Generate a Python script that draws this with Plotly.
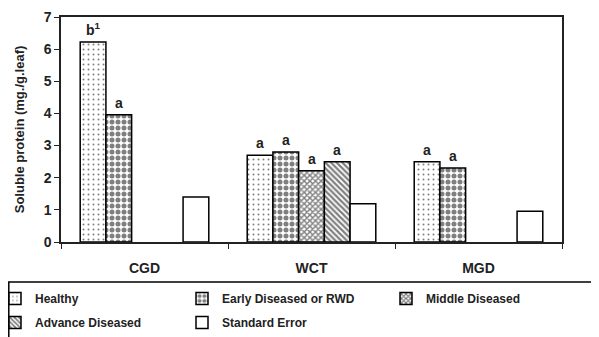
import plotly.graph_objects as go

categories = ["CGD", "WCT", "MGD"]
series_names = ["Healthy", "Early Diseased or RWD", "Middle Diseased", "Advance Diseased", "Standard Error"]
healthy = [6.22, 2.70, 2.50]
early = [3.96, 2.80, 2.30]
middle = [None, 2.22, None]
advance = [None, 2.50, None]
std_err = [1.40, 1.19, 0.96]
letters = [
    ["b<sup>1</sup>", "a", "a"],
    ["a", "a", "a"],
    [None, "a", None],
    [None, "a", None],
    [None, None, None],
]
y_ticks = [0, 1, 2, 3, 4, 5, 6, 7]

FONT = "Liberation Sans, Arial, sans-serif"
INK = "#222"

patterns = [
    dict(shape=".", fgcolor="black", bgcolor="white", size=5, solidity=0.12),
    dict(shape=".", fgcolor="black", bgcolor="white", size=6, solidity=0.55),
    dict(shape="x", fgcolor="black", bgcolor="white", size=4, solidity=0.6),
    dict(shape="\\", fgcolor="black", bgcolor="white", size=4, solidity=0.55),
    dict(shape="", fgcolor="black", bgcolor="white"),
]
legend_slot = ["legend", "legend2", "legend3", "legend", "legend2"]
all_values = [healthy, early, middle, advance, std_err]

fig = go.Figure()
for k, (name, vals, pat, lg) in enumerate(zip(series_names, all_values, patterns, legend_slot)):
    fig.add_trace(go.Bar(
        x=categories, y=vals, name=name, legend=lg, legendgroup=f"g{k}",
        marker=dict(color="white", line=dict(color="black", width=1.5), pattern=pat),
    ))

bargap = 0.23
n = len(series_names)
w = (1 - bargap) / n
annotations = []
for i, (vals, labs) in enumerate(zip(all_values, letters)):
    for j, (v, lab) in enumerate(zip(vals, labs)):
        if lab is None or v is None:
            continue
        annotations.append(dict(
            x=j + (i - (n - 1) / 2) * w, y=v, xref="x", yref="y",
            text=lab, showarrow=False, yanchor="bottom", yshift=2,
            font=dict(family=FONT, size=14, color=INK, weight="bold"),
        ))

# page has an 8px body margin; figure is laid out in its own coords
OFF = 8
W, H = 591, 329
L, R, T, B = 53, 37, 9, 95
pw, ph = W - L - R, H - T - B

def px_x(p):  # page pixel -> paper x
    return (p - OFF - L) / pw

def px_y(p):  # page pixel -> paper y
    return (H - B - (p - OFF)) / ph

fig.add_shape(type="rect", xref="paper", yref="paper",
              x0=px_x(OFF + 0.8), x1=px_x(640), y0=px_y(282), y1=px_y(380),
              line=dict(color="black", width=1.5), fillcolor="rgba(0,0,0,0)")

def legend_at(page_left):
    return dict(
        orientation="v", xref="paper", yref="paper",
        x=px_x(page_left), y=px_y(284),
        xanchor="left", yanchor="top",
        font=dict(family=FONT, size=12, color=INK, weight="bold"),
        bgcolor="rgba(0,0,0,0)", borderwidth=0, traceorder="grouped",
        tracegroupgap=5, itemwidth=30,
    )

fig.update_layout(
    width=W, height=H,
    margin=dict(l=L, r=R, t=T, b=B, autoexpand=False),
    paper_bgcolor="white", plot_bgcolor="white",
    barmode="group", bargap=bargap, bargroupgap=0,
    font=dict(family=FONT, size=12, color=INK, weight="bold"),
    showlegend=True,
    legend=legend_at(-5),
    legend2=legend_at(182),
    legend3=legend_at(386),
    annotations=annotations,
    xaxis=dict(
        type="category", tickson="boundaries", ticks="outside", ticklen=5,
        tickcolor=INK, showline=True, linecolor=INK, linewidth=1.5,
        mirror=True, showgrid=False, automargin=False, ticklabelstandoff=12,
        tickfont=dict(family=FONT, size=14, color=INK, weight="bold"),
    ),
    yaxis=dict(
        range=[0, 7], tickvals=y_ticks, ticks="outside", ticklen=5,
        tickcolor=INK, showline=True, linecolor=INK, linewidth=1.5,
        mirror=True, showgrid=False, zeroline=False, automargin=False,
        tickfont=dict(family=FONT, size=14, color=INK, weight="bold"),
        title=dict(text="Soluble protein (mg./g.leaf)", standoff=16,
                   font=dict(family=FONT, size=13, color=INK, weight="bold")),
    ),
)

fig.write_html("out.html")
